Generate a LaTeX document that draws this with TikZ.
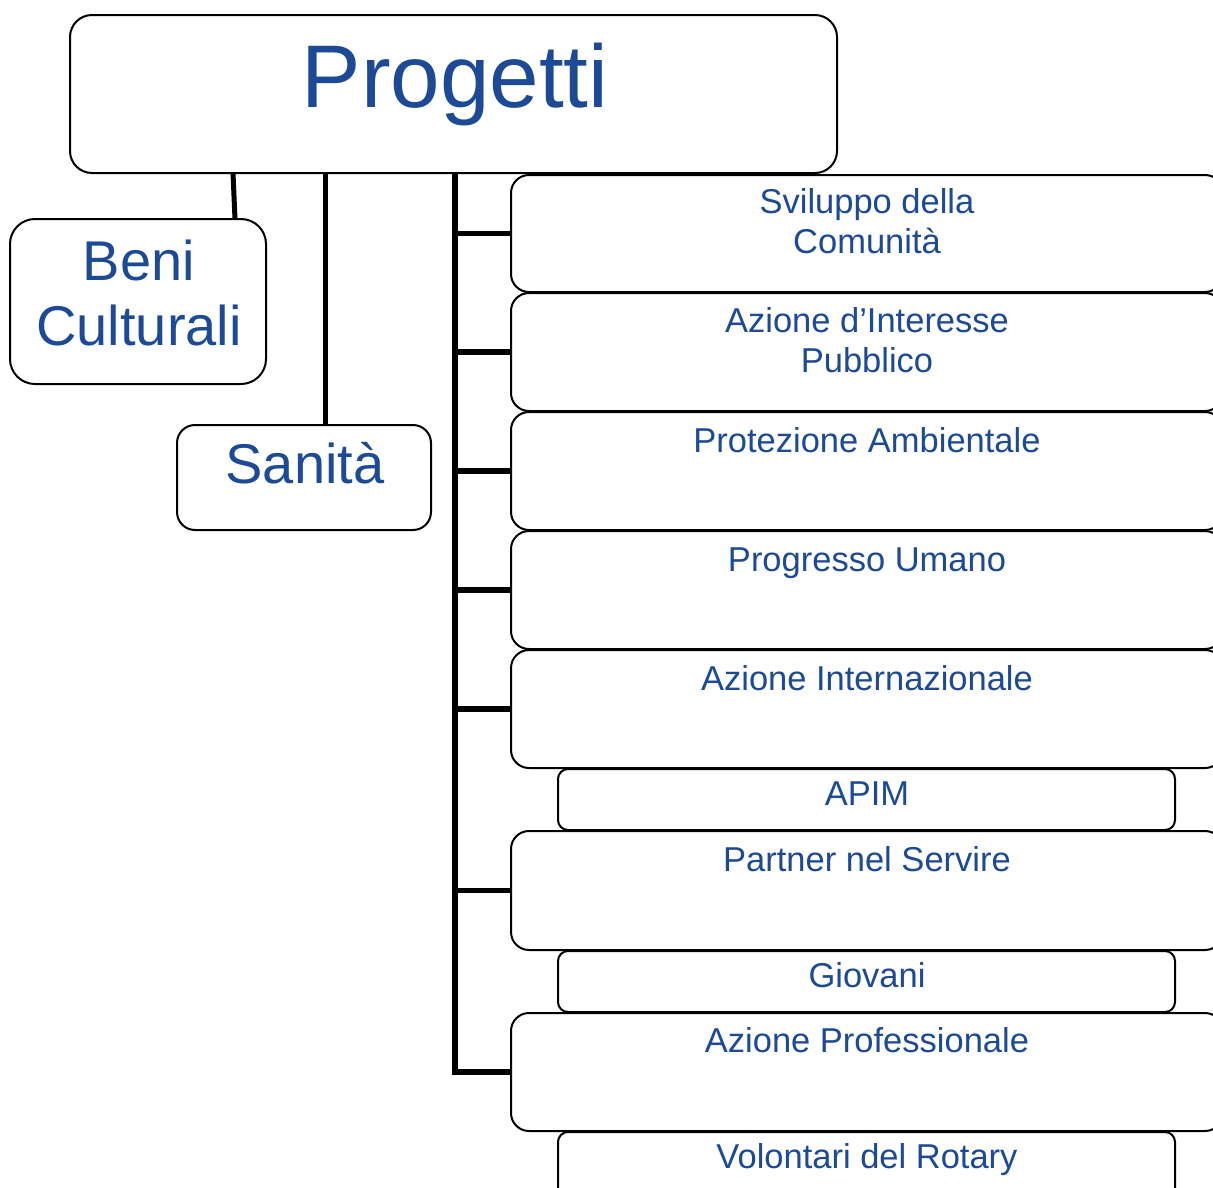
\documentclass[tikz,border=0pt]{standalone}
\usepackage{fontspec}
\setmainfont{Liberation Sans}
\definecolor{txtblue}{HTML}{1C4A96}
\begin{document}
\begin{tikzpicture}[x=1pt,y=-1pt,
  box/.style={draw=black, line width=2pt, fill=white, inner sep=0pt, outer sep=0pt, anchor=north west},
  bigbox/.style={box, rounded corners=18pt, minimum width=712pt, minimum height=118pt},
  smallbox/.style={box, rounded corners=10pt, minimum width=617pt, minimum height=61pt},
  lbl/.style={text=txtblue, inner sep=0pt, anchor=base},
  rtxt/.style={lbl, font=\fontsize{34.5}{40}\selectfont},
  midtxt/.style={lbl, font=\fontsize{56}{64}\selectfont},
  link/.style={draw=black, line width=5pt},
  trunk/.style={draw=black, line width=5.5pt, line join=miter}
]
\clip (0,0) rectangle (1213,1187);
\fill[white] (0,0) rectangle (1213,1187);

% top box
\node[box, rounded corners=22pt, minimum width=767pt, minimum height=158pt] (prog) at (70,15) {};
\node[lbl, font=\fontsize{89}{100}\selectfont] (progt) at (455,107) {Progetti};

% left boxes
\node[box, rounded corners=25pt, minimum width=256pt, minimum height=165pt] (beni) at (10,219) {};
\node[midtxt] (benit1) at (139,280) {Beni};
\node[midtxt] (benit2) at (139,345) {Culturali};

\node[box, rounded corners=18pt, minimum width=254pt, minimum height=105pt] (san) at (177,425) {};
\node[midtxt] (sant) at (305,483) {Sanità};

% right boxes
\node[bigbox, minimum height=117pt] (b1) at (511,175) {};
\node[rtxt] (t1a) at (867,213) {Sviluppo della};
\node[rtxt] (t1b) at (867,253) {Comunità};

\node[bigbox] (b2) at (511,293) {};
\node[rtxt] (t2a) at (867,332) {Azione d’Interesse};
\node[rtxt] (t2b) at (867,372) {Pubblico};

\node[bigbox] (b3) at (511,412) {};
\node[rtxt] (t3) at (867,452) {Protezione Ambientale};

\node[bigbox] (b4) at (511,531) {};
\node[rtxt] (t4) at (867,571) {Progresso Umano};

\node[bigbox] (b5) at (511,650) {};
\node[rtxt] (t5) at (867,690) {Azione Internazionale};

\node[smallbox] (s1) at (558,769) {};
\node[rtxt] (st1) at (867,805) {APIM};

\node[bigbox, minimum height=119pt] (b6) at (511,831) {};
\node[rtxt] (t6) at (867,871) {Partner nel Servire};

\node[smallbox] (s2) at (558,951) {};
\node[rtxt] (st2) at (867,987) {Giovani};

\node[bigbox] (b7) at (511,1013) {};
\node[rtxt] (t7) at (867,1052) {Azione Professionale};

\node[smallbox, minimum height=70pt] (s3) at (558,1132) {};
\node[rtxt] (st3) at (867,1168) {Volontari del Rotary};

% connectors
\draw[link] ([xshift=163pt]prog.south west) -- ([xshift=225pt]beni.north west);
\draw[link] ([xshift=255pt]prog.south west) -- ([xshift=148pt]san.north west);
\coordinate (tr) at ([xshift=385pt]prog.south west);
\foreach \b in {b1,b2,b3,b4,b5,b6,b7}{
  \draw[trunk] (tr) |- (\b.west);
}
\end{tikzpicture}
\end{document}
